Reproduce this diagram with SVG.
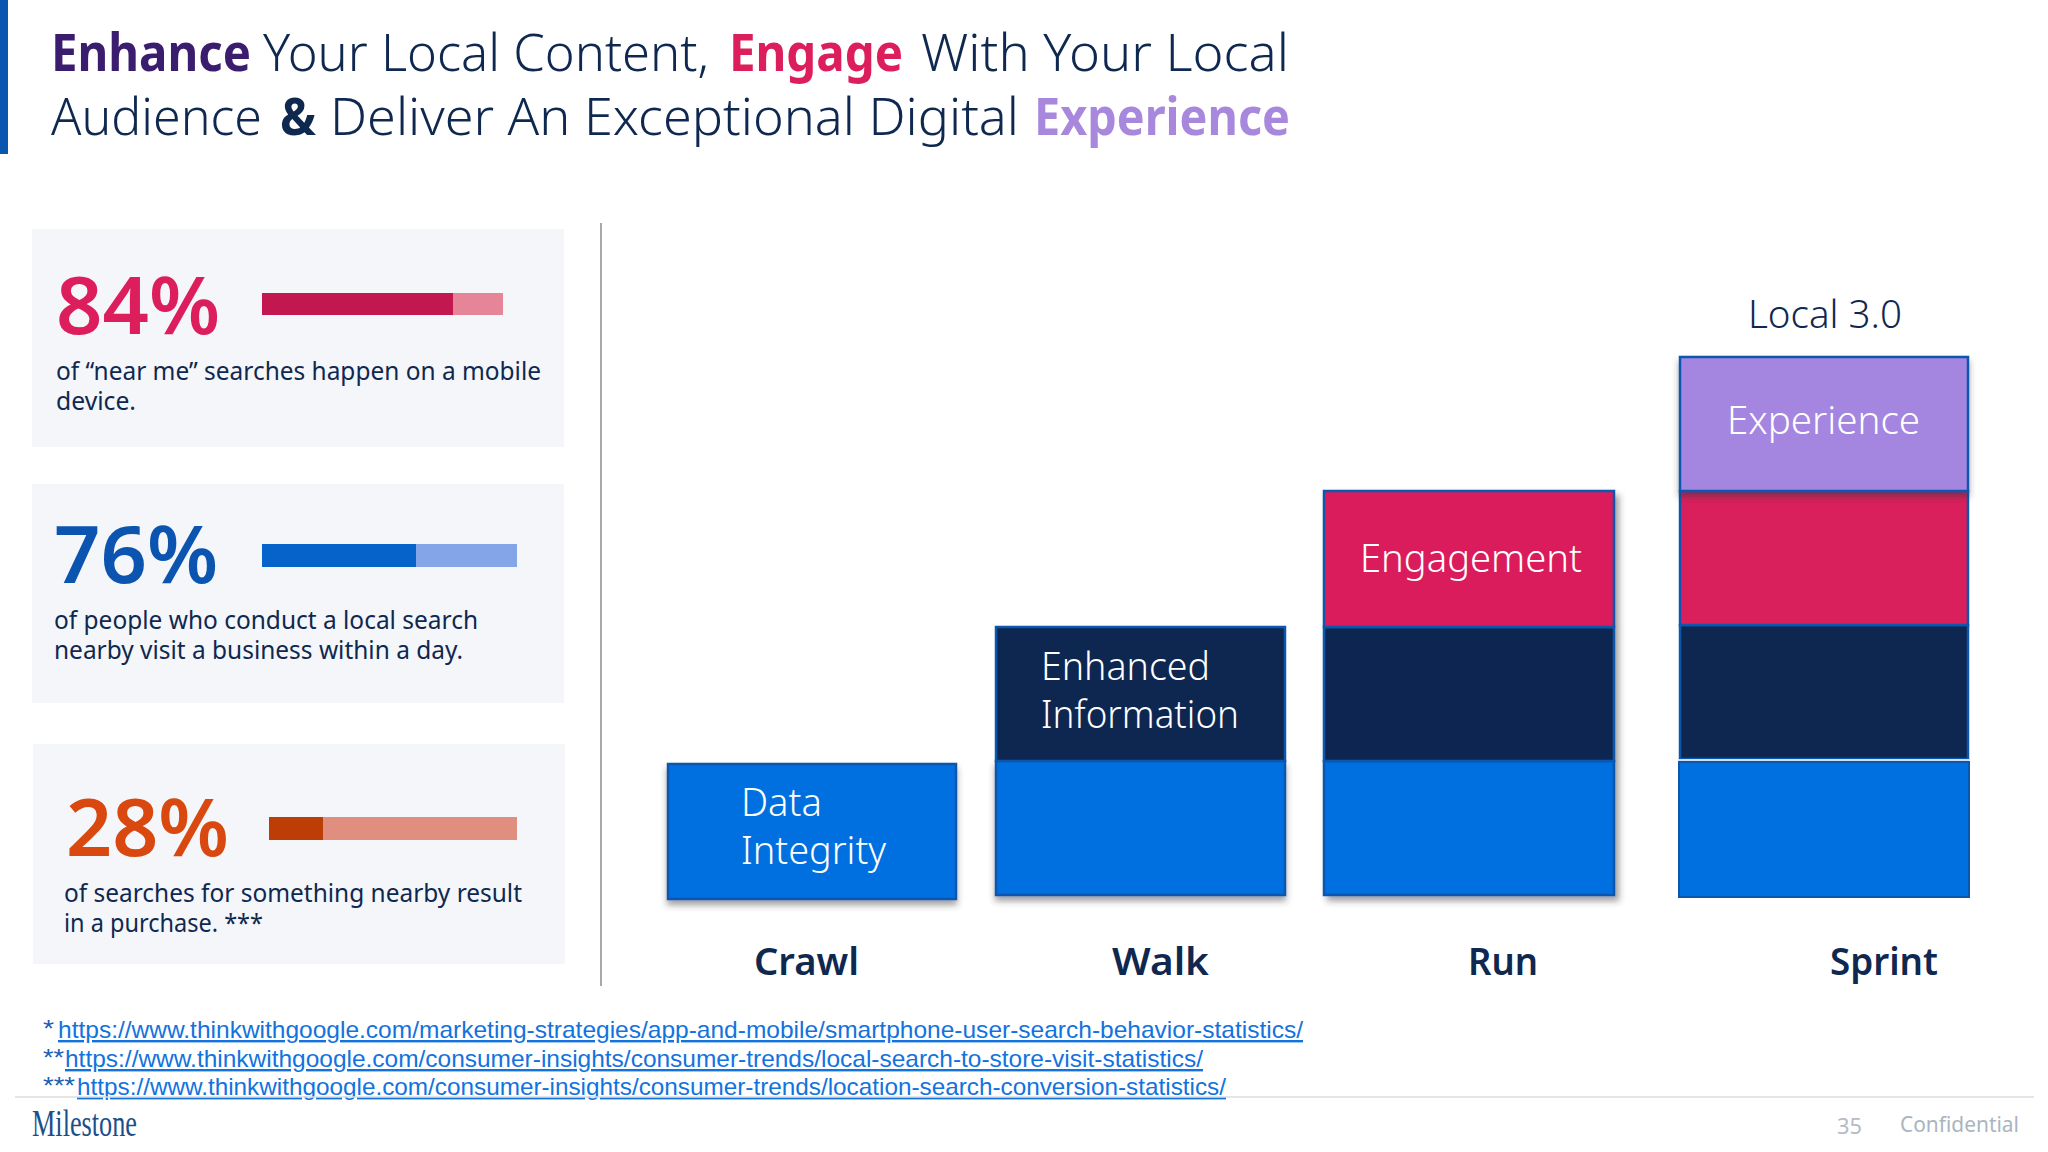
<svg xmlns="http://www.w3.org/2000/svg" width="2048" height="1152" viewBox="0 0 2048 1152">
<style>
text{font-family:"Noto Sans","Open Sans","Liberation Sans",sans-serif;fill:#0f2850}
.title{font-size:52px;font-weight:300}
.b{font-weight:700}
.pct{font-size:80px;font-weight:600}
.desc{font-size:25px}
.card{fill:#f4f6f9}
.seg{stroke:#0b57b0;stroke-width:2.5}
.blue{fill:#0070e0}.navy{fill:#0e2751}.red{fill:#da1f5d}.pur{fill:#a485e0}
.lbl{font-size:38px;fill:#fff;font-weight:300}
.stage{font-size:38px;font-weight:600}
.note{font-family:"Liberation Sans",sans-serif;font-size:24px;fill:#1a5fb4}
.link{font-family:"Liberation Sans",sans-serif;font-size:24px;fill:#1273de;text-decoration:underline}
.foot{font-size:22px}
</style>
<defs>
<filter id="sh" x="-10%" y="-10%" width="125%" height="125%"><feDropShadow dx="4" dy="5" stdDeviation="3" flood-color="#333" flood-opacity=".45"/></filter>
<filter id="shd" x="-10%" y="-10%" width="120%" height="125%"><feDropShadow dx="0" dy="5" stdDeviation="3" flood-color="#333" flood-opacity=".45"/></filter>
</defs>
<rect width="2048" height="1152" fill="#fff"/>
<rect id="accent" x="0" y="0" width="8" height="154" fill="#0b57b0"/>
<g id="title">
<text class="title" y="71"><tspan x="51" class="b" style="fill:#3a1d6e" textLength="200" lengthAdjust="spacingAndGlyphs">Enhance</tspan><tspan x="263" textLength="446" lengthAdjust="spacingAndGlyphs">Your Local Content,</tspan><tspan x="729" class="b" style="fill:#dc1e5c" textLength="174" lengthAdjust="spacingAndGlyphs">Engage</tspan><tspan x="921" textLength="368" lengthAdjust="spacingAndGlyphs">With Your Local</tspan></text>
<text class="title" y="135"><tspan x="51" textLength="211" lengthAdjust="spacingAndGlyphs">Audience</tspan><tspan x="280" class="b" textLength="36" lengthAdjust="spacingAndGlyphs">&amp;</tspan><tspan x="330" textLength="689" lengthAdjust="spacingAndGlyphs">Deliver An Exceptional Digital</tspan><tspan x="1034" class="b" style="fill:#a888dc" textLength="256" lengthAdjust="spacingAndGlyphs">Experience</tspan></text>
</g>
<g id="stat-84">
<rect class="card" x="32" y="229" width="532" height="218"/>
<text class="pct" x="56" y="334" style="fill:#dc1e5c" textLength="164" lengthAdjust="spacingAndGlyphs">84%</text>
<rect x="262" y="293" width="191" height="22" fill="#c2174f"/><rect x="453" y="293" width="50" height="22" fill="#e68598"/>
<text class="desc" x="56" y="380" textLength="485" lengthAdjust="spacingAndGlyphs">of “near me” searches happen on a mobile</text>
<text class="desc" x="56" y="410" textLength="80" lengthAdjust="spacingAndGlyphs">device.</text>
</g>
<g id="stat-76">
<rect class="card" x="32" y="484" width="532" height="219"/>
<text class="pct" x="54" y="583" style="fill:#0b55b0" textLength="164" lengthAdjust="spacingAndGlyphs">76%</text>
<rect x="262" y="544" width="154" height="23" fill="#0563c9"/><rect x="416" y="544" width="101" height="23" fill="#84a5e8"/>
<text class="desc" x="54" y="629" textLength="424" lengthAdjust="spacingAndGlyphs">of people who conduct a local search</text>
<text class="desc" x="54" y="659" textLength="409" lengthAdjust="spacingAndGlyphs">nearby visit a business within a day.</text>
</g>
<g id="stat-28">
<rect class="card" x="33" y="744" width="532" height="220"/>
<text class="pct" x="66" y="856" style="fill:#d9480f" textLength="163" lengthAdjust="spacingAndGlyphs">28%</text>
<rect x="269" y="817" width="54" height="23" fill="#bd3d06"/><rect x="323" y="817" width="194" height="23" fill="#e08e80"/>
<text class="desc" x="64" y="902" textLength="458" lengthAdjust="spacingAndGlyphs">of searches for something nearby result</text>
<text class="desc" x="64" y="932" textLength="199" lengthAdjust="spacingAndGlyphs">in a purchase. ***</text>
</g>
<line id="divider" x1="601" y1="223" x2="601" y2="986" stroke="#a9a9a9" stroke-width="2"/>
<g id="crawl">
<rect class="seg blue" x="668" y="764" width="288" height="135" filter="url(#shd)"/>
<text class="lbl" x="741" y="816" textLength="81" lengthAdjust="spacingAndGlyphs">Data</text>
<text class="lbl" x="741" y="864" textLength="145" lengthAdjust="spacingAndGlyphs">Integrity</text>
<text class="stage" x="754" y="975" textLength="105" lengthAdjust="spacingAndGlyphs">Crawl</text>
</g>
<g id="walk">
<g filter="url(#shd)"><rect class="seg blue" x="996" y="761" width="289" height="134"/></g>
<rect class="seg navy" x="996" y="627" width="289" height="134"/>
<text class="lbl" x="1041" y="680" textLength="169" lengthAdjust="spacingAndGlyphs">Enhanced</text>
<text class="lbl" x="1041" y="728" textLength="198" lengthAdjust="spacingAndGlyphs">Information</text>
<text class="stage" x="1112" y="975" textLength="97" lengthAdjust="spacingAndGlyphs">Walk</text>
</g>
<g id="run">
<g filter="url(#sh)">
<rect class="seg blue" x="1324" y="761" width="290" height="134"/>
<rect class="seg navy" x="1324" y="627" width="290" height="134"/>
<rect class="seg red" x="1324" y="491" width="290" height="136"/>
</g>
<text class="lbl" x="1360" y="572" textLength="222" lengthAdjust="spacingAndGlyphs">Engagement</text>
<text class="stage" x="1468" y="975" textLength="70" lengthAdjust="spacingAndGlyphs">Run</text>
</g>
<g id="sprint">
<rect class="blue" x="1679" y="762" width="290" height="135" stroke="#0b57b0" stroke-width="2"/>
<rect class="seg navy" x="1680" y="625" width="288" height="134"/>
<line x1="1678" y1="760" x2="1969" y2="760" stroke="#cfe0f5" stroke-width="2"/>
<rect class="seg red" x="1680" y="491" width="288" height="134"/>
<rect class="seg pur" x="1680" y="357" width="288" height="134" filter="url(#shd)"/>
<text class="lbl" x="1727" y="434" textLength="193" lengthAdjust="spacingAndGlyphs">Experience</text>
<text class="lbl" x="1748" y="328" style="fill:#0f2850" textLength="154" lengthAdjust="spacingAndGlyphs">Local 3.0</text>
<text class="stage" x="1830" y="975" textLength="108" lengthAdjust="spacingAndGlyphs">Sprint</text>
</g>
<g id="sources">
<text class="note" x="43" y="1037" textLength="11" lengthAdjust="spacingAndGlyphs">*</text>
<text class="link" x="58" y="1038" textLength="1245" lengthAdjust="spacingAndGlyphs">https://www.thinkwithgoogle.com/marketing-strategies/app-and-mobile/smartphone-user-search-behavior-statistics/</text>
<text class="note" x="43" y="1066" textLength="21" lengthAdjust="spacingAndGlyphs">**</text>
<text class="link" x="65" y="1067" textLength="1138" lengthAdjust="spacingAndGlyphs">https://www.thinkwithgoogle.com/consumer-insights/consumer-trends/local-search-to-store-visit-statistics/</text>
<text class="note" x="43" y="1094" textLength="32" lengthAdjust="spacingAndGlyphs">***</text>
<text class="link" x="77" y="1095" textLength="1149" lengthAdjust="spacingAndGlyphs">https://www.thinkwithgoogle.com/consumer-insights/consumer-trends/location-search-conversion-statistics/</text>
</g>
<g id="footer">
<line x1="15" y1="1097" x2="2034" y2="1097" stroke="#dcdcdc" stroke-width="1.5"/>
<text x="32" y="1136" style="font-family:'Liberation Serif',serif;font-size:38px;fill:#1b4f8c" textLength="105" lengthAdjust="spacingAndGlyphs">Milestone</text>
<text class="foot" x="1837" y="1134" style="fill:#b5bcc5" textLength="25" lengthAdjust="spacingAndGlyphs">35</text>
<text class="foot" x="1900" y="1132" style="fill:#a9b5c0" textLength="119" lengthAdjust="spacingAndGlyphs">Confidential</text>
</g>
</svg>
